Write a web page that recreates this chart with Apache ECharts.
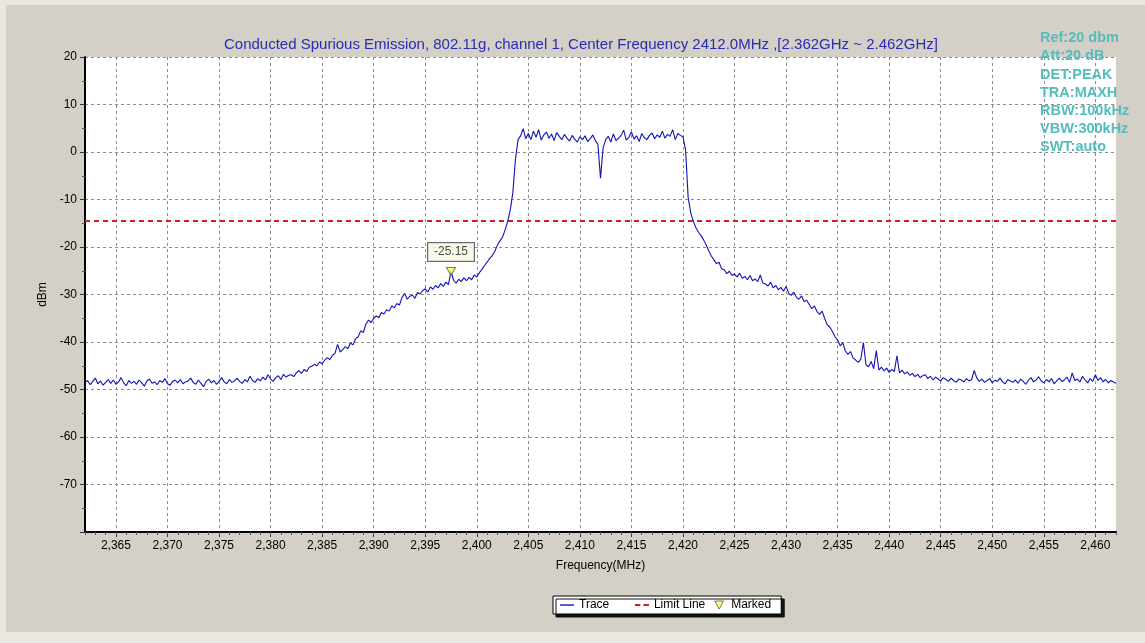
<!DOCTYPE html>
<html>
<head>
<meta charset="utf-8">
<script src="https://cdn.jsdelivr.net/npm/echarts@6/dist/echarts.min.js"></script>
<style>html,body{margin:0;padding:0;background:#e9e7e1;}#c{width:1145px;height:643px;}</style>
</head>
<body>
<div id="c"></div>
<script>
// ---- data ----
const freqStart = 2362;      // MHz
const freqStep = 0.25;       // MHz
const traceValues = [
  -48.6,-48.1,-49.0,-48.3,-47.6,-48.8,-48.2,-49.1,-48.5,-47.9,-48.7,-48.0,-48.9,-48.4,-47.5,-48.6,-49.2,-48.1,-48.7,-48.3,
  -48.9,-48.0,-48.6,-49.3,-48.2,-47.8,-48.7,-48.4,-49.0,-48.1,-48.5,-47.7,-48.8,-49.1,-48.3,-48.0,-48.6,-47.9,-48.8,-48.4,
  -48.2,-47.6,-48.5,-48.9,-48.0,-48.7,-49.4,-48.3,-47.8,-48.6,-48.1,-48.9,-48.3,-47.5,-48.4,-48.8,-47.9,-48.5,-48.2,-47.6,
  -48.3,-48.7,-47.9,-48.4,-47.2,-48.1,-48.5,-47.7,-48.2,-47.4,-48.0,-46.9,-47.8,-48.3,-47.5,-47.1,-47.9,-46.8,-47.4,-47.0,
  -46.9,-47.3,-46.5,-46.0,-46.6,-45.8,-46.2,-45.3,-45.1,-44.7,-45.0,-44.2,-44.6,-43.8,-43.3,-43.7,-42.8,-42.4,-40.5,-42.1,
  -41.6,-41.0,-41.4,-40.2,-40.6,-39.3,-38.9,-37.6,-38.0,-36.2,-35.4,-35.9,-35.0,-34.5,-34.9,-33.8,-34.1,-33.2,-33.5,-32.4,
  -32.8,-31.9,-32.2,-30.6,-29.8,-31.0,-30.4,-30.1,-30.8,-29.6,-29.9,-29.2,-28.8,-29.5,-28.4,-28.9,-28.1,-28.6,-27.7,-28.3,
  -27.4,-27.9,-25.15,-27.0,-27.6,-26.8,-27.3,-26.5,-27.1,-26.4,-26.9,-25.9,-26.3,-25.4,-24.7,-23.9,-23.2,-22.4,-21.8,-20.9,
  -19.6,-18.7,-17.9,-16.4,-14.6,-12.2,-8.5,-1.5,2.6,3.4,4.9,2.8,3.9,2.6,4.4,3.1,4.7,2.5,3.6,4.2,
  2.9,3.8,2.4,4.1,3.3,2.6,3.7,2.9,2.3,3.5,2.7,2.1,3.2,2.6,3.4,2.2,2.8,3.6,2.4,1.6,
  -5.5,0.8,2.6,3.3,2.1,3.8,2.4,2.9,3.5,4.6,2.5,3.1,4.2,2.7,3.4,2.2,3.9,3.0,2.6,3.5,
  4.0,2.8,3.6,3.1,4.4,2.9,3.7,3.3,4.7,2.6,3.9,3.5,3.2,0.5,-9.5,-12.8,-14.6,-15.9,-16.9,-17.6,
  -18.5,-19.6,-20.8,-21.9,-22.7,-23.5,-23.2,-24.6,-24.8,-25.6,-25.1,-26.0,-25.7,-26.3,-25.5,-26.6,-26.2,-26.9,-26.0,-27.1,
  -26.7,-27.3,-25.9,-27.6,-27.8,-28.2,-27.4,-28.6,-28.1,-29.0,-28.5,-29.3,-28.3,-29.7,-30.2,-29.5,-30.6,-31.0,-30.3,-31.5,
  -31.2,-32.1,-33.0,-32.4,-33.6,-34.2,-33.5,-35.1,-36.4,-36.9,-37.8,-38.9,-39.6,-40.8,-40.2,-41.9,-42.6,-42.0,-43.4,-43.8,
  -44.3,-43.6,-40.1,-44.8,-45.2,-44.1,-45.6,-41.8,-45.9,-45.3,-46.1,-45.5,-46.4,-45.8,-46.2,-42.9,-46.5,-45.9,-46.7,-46.3,
  -47.0,-46.6,-47.3,-46.8,-47.5,-47.1,-46.9,-47.7,-47.2,-48.0,-47.4,-47.8,-48.2,-47.5,-47.9,-48.3,-47.6,-48.1,-48.5,-47.8,
  -48.0,-48.4,-47.7,-48.2,-47.9,-46.0,-47.6,-48.3,-47.8,-48.5,-48.1,-47.7,-48.6,-48.0,-48.3,-47.6,-48.4,-48.8,-47.9,-48.2,
  -48.5,-48.0,-48.7,-47.8,-48.3,-48.9,-48.1,-47.5,-48.4,-48.0,-47.3,-48.2,-48.6,-47.9,-48.4,-47.7,-48.8,-48.2,-47.6,-48.3,
  -48.0,-47.4,-48.5,-46.5,-48.1,-47.8,-48.4,-47.2,-48.0,-48.6,-47.7,-48.3,-46.9,-48.1,-47.5,-48.4,-47.9,-48.6,-48.1,-48.4,
  -48.7
];
const limitFreq = [2362, 2462];
const limitValue = [-14.5, -14.5];
const markerFreq = [2397.5];
const markerValue = [-25.15];
const xTickLabels = [2365,2370,2375,2380,2385,2390,2395,2400,2405,2410,2415,2420,2425,2430,2435,2440,2445,2450,2455,2460];
const yTickLabels = [20,10,0,-10,-20,-30,-40,-50,-60,-70];
const infoLines = ['Ref:20 dbm','Att:20 dB','DET:PEAK','TRA:MAXH','RBW:100kHz','VBW:300kHz','SWT:auto'];
const titleText = 'Conducted Spurious Emission, 802.11g, channel 1, Center Frequency 2412.0MHz ,[2.362GHz ~ 2.462GHz]';

// ---- build ----
const traceData = traceValues.map((v, i) => [freqStart + i * freqStep, v]);
const limitData = limitFreq.map((f, i) => [f, limitValue[i]]);
const markerData = markerFreq.map((f, i) => [f, markerValue[i]]);
const minorX = [];
for (let f = 2362; f <= 2462; f++) minorX.push(f);

const FONT = "'Liberation Sans', Arial, sans-serif";
const chart = echarts.init(document.getElementById('c'), null, {renderer: 'canvas'});
chart.setOption({
  animation: false,
  backgroundColor: '#e9e7e1',
  graphic: [
    {type: 'rect', left: 6, top: 5, shape: {width: 1139, height: 627}, style: {fill: '#d4d0c8'}, z: -10, silent: true},
    {type: 'text', left: 1040, top: 29, z: 100, style: {
      text: infoLines.join('\n'), fill: '#55bcbc', font: "bold 14.5px " + FONT, lineHeight: 18.2
    }}
  ],
  title: {
    text: titleText, left: 219, top: 32,
    textStyle: {color: '#2a2ab8', fontSize: 15, fontWeight: 'normal', fontFamily: FONT}
  },
  legend: {
    left: 553, top: 596, itemWidth: 14, itemHeight: 8, itemGap: 9,
    padding: [3, 10, 3, 7],
    backgroundColor: '#ffffff', borderColor: '#000', borderWidth: 1, borderRadius: 0,
    shadowColor: '#111', shadowOffsetX: 3, shadowOffsetY: 3, shadowBlur: 0,
    textStyle: {fontSize: 12, color: '#000', fontFamily: FONT},
    formatter: n => (n === 'Trace' ? 'Trace     ' : n),
    data: [
      {name: 'Trace', icon: 'path://M0,0 H14 V1.4 H0 Z', itemStyle: {color: '#1515b5'}},
      {name: 'Limit Line', icon: 'path://M0,0 H5 V2 H0 Z M8,0 H13 V2 H8 Z', itemStyle: {color: '#d42020'}},
      {name: 'Marked', icon: 'path://M0,0 L10,0 L5,9 Z', itemStyle: {color: '#ffff40', borderColor: '#555', borderWidth: 1}}
    ]
  },
  grid: {left: 85, top: 57, right: 29, bottom: 111, show: true, backgroundColor: '#ffffff', borderWidth: 0},
  xAxis: [
    {
      type: 'value', min: 2362, max: 2462, position: 'bottom',
      name: 'Frequency(MHz)', nameLocation: 'middle', nameGap: 28,
      nameTextStyle: {fontSize: 12, color: '#000', fontFamily: FONT},
      axisLine: {show: true, onZero: false, lineStyle: {color: '#000', width: 2}},
      axisTick: {show: true, length: 5, customValues: xTickLabels, lineStyle: {color: '#333'}},
      axisLabel: {customValues: xTickLabels, fontSize: 12, color: '#000', margin: 8, fontFamily: FONT,
        formatter: v => String(v).replace(/(\d)(\d{3})$/, '$1,$2')},
      splitLine: {show: true, lineStyle: {color: '#8c8c8c', type: [3, 3], width: 1}}
    },
    {
      type: 'value', min: 2362, max: 2462, position: 'bottom',
      axisLine: {show: false, onZero: false},
      axisTick: {show: true, length: 3, customValues: minorX, lineStyle: {color: '#555'}},
      axisLabel: {show: false},
      splitLine: {show: false}
    }
  ],
  yAxis: {
    type: 'value', min: -80, max: 20, interval: 10,
    name: 'dBm', nameLocation: 'middle', nameGap: 36, nameRotate: 90,
    nameTextStyle: {fontSize: 12, color: '#000', fontFamily: FONT},
    axisLine: {show: true, onZero: false, lineStyle: {color: '#000', width: 2}},
    axisTick: {show: true, length: 5, lineStyle: {color: '#333'}},
    minorTick: {show: true, splitNumber: 2, length: 3, lineStyle: {color: '#555'}},
    axisLabel: {fontSize: 12, color: '#000', margin: 8, fontFamily: FONT,
      formatter: v => (yTickLabels.indexOf(v) >= 0 ? String(v) : '')},
    splitLine: {show: true, lineStyle: {color: '#8c8c8c', type: [3, 3], width: 1}}
  },
  series: [
    {
      name: 'Trace', type: 'line', data: traceData, symbol: 'none', z: 3,
      lineStyle: {color: '#1212b8', width: 1.1}, itemStyle: {color: '#1212b8'}
    },
    {
      name: 'Limit Line', type: 'line', data: limitData, symbol: 'none', z: 2,
      lineStyle: {color: '#d42020', width: 2, type: [5, 4]}, itemStyle: {color: '#d42020'}
    },
    {
      name: 'Marked', type: 'scatter', data: markerData, z: 5,
      symbol: 'triangle', symbolRotate: 180, symbolSize: [9, 8],
      itemStyle: {color: '#ffff40', borderColor: '#555', borderWidth: 1},
      label: {
        show: true, position: 'top', distance: 6,
        formatter: p => String(p.value[1]),
        backgroundColor: '#f7f7e4', borderColor: '#444', borderWidth: 1,
        padding: [3, 6, 3, 6], fontSize: 12, color: '#222', fontFamily: FONT
      }
    }
  ]
});
</script>
</body>
</html>
